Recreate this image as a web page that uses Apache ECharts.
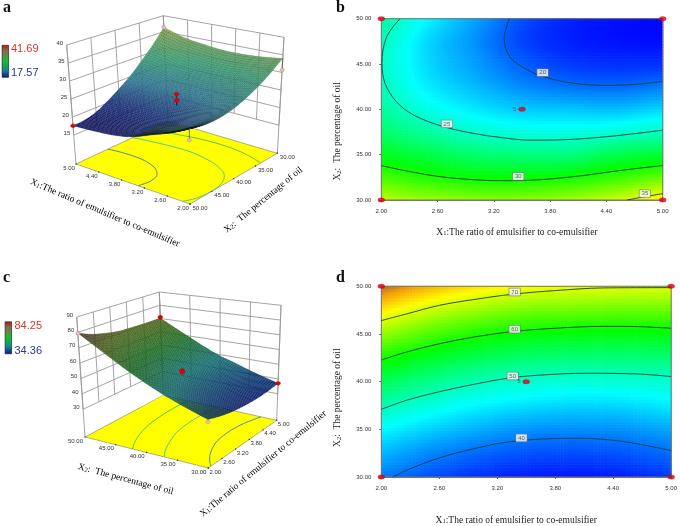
<!DOCTYPE html>
<html><head><meta charset="utf-8"><style>html,body{margin:0;padding:0;background:#fff}#c{width:680px;height:526px}</style>
<script src="https://cdn.jsdelivr.net/npm/echarts@6/dist/echarts.min.js"></script></head><body><div id="c"></div>
<script>
// ---------- values ----------
const x1Grid = [2, 2.5, 3, 3.5, 4, 4.5, 5];
const x2Grid = [30, 32.5, 35, 37.5, 40, 42.5, 45, 47.5, 50];
const x1Ticks = [2, 2.6, 3.2, 3.8, 4.4, 5];
const x2Ticks = [30, 35, 40, 45, 50];
// response of panels a/b: one row per x2Grid value, one column per x1Grid value
const responseAB = [
  [34.0, 33.3, 32.9, 32.9, 33.5, 34.4, 36.3],
  [31.25,30.3, 29.7, 29.6, 30.0, 30.9, 32.0],
  [29.0, 28.0, 27.1, 26.8, 26.7, 27.8, 28.4],
  [27.25,25.9, 24.85,24.35,24.25,24.6, 25.2],
  [26.0, 24.2, 23.1, 22.4, 22.25,22.1, 22.7],
  [25.25,23.2, 22.0, 20.9, 20.3, 20.1, 20.5],
  [25.0, 22.7, 21.3, 19.85,18.95,18.7, 18.75],
  [25.25,22.7, 21.0, 19.2, 18.35,18.0, 17.85],
  [26.0, 23.4, 21.4, 19.4, 18.35,17.9, 17.6]
];
// response of panels c/d
const responseCD = [
  [40.4, 38.2, 36.6, 35.7, 35.4, 35.8, 37.1],
  [43.4, 41.1, 39.5, 38.5, 38.2, 38.6, 39.7],
  [46.75,44.6, 42.9, 41.6, 41.3, 41.6, 42.6],
  [50.7, 48.4, 46.5, 45.4, 44.8, 45.0, 46.0],
  [55.3, 52.6, 50.4, 49.2, 48.8, 48.9, 49.1],
  [60.5, 57.5, 55.4, 54.0, 53.5, 53.5, 53.6],
  [66.5, 63.1, 60.6, 59.2, 58.7, 58.5, 58.8],
  [72.9, 69.3, 66.8, 65.1, 64.7, 64.3, 64.4],
  [79.5, 75.8, 73.3, 71.5, 70.9, 70.4, 70.3]
];
const contoursAB = {
  20: [[3.365,50],[3.31,47.8],[3.37,45.8],[3.55,44.4],[3.73,43.6],[4.05,42.87],[4.42,42.65],[4.76,42.8],[5,43.1]],
  25: [[2.2,50],[2.057,48],[2.007,45.07],[2.04,42.87],[2.16,40.85],[2.34,39.4],[2.64,38.16],[2.98,37.35],[3.27,36.9],[3.585,36.6],[4.05,36.7],[4.51,37.1],[5,37.7]],
  30: [[2,33.8],[2.27,33.2],[2.63,32.57],[2.98,32.24],[3.27,32.13],[3.62,32.2],[4.05,32.57],[4.58,33.3],[5,33.8]],
  35: [[4.62,30],[4.81,30.37],[5,30.7]]
};
const contoursCD = {
  40: [[2.12,30],[2.26,30.7],[2.6,32],[2.95,32.95],[3.29,33.64],[3.7,34],[4.04,34.06],[4.49,33.74],[5,32.77]],
  50: [[2,37.1],[2.26,38.04],[2.6,38.94],[2.95,39.7],[3.29,40.33],[3.63,40.68],[4.14,40.88],[4.66,40.8],[5,40.54]],
  60: [[2,42.27],[2.26,43.1],[2.6,43.97],[2.95,44.66],[3.36,45.25],[3.8,45.6],[4.3,45.8],[4.66,45.77],[5,45.6]],
  70: [[2,46.4],[2.26,47.1],[2.6,48],[2.95,48.6],[3.36,49.17],[3.8,49.55],[4.3,49.83],[5,49.86]]
};
const labelsAB = [[3.72,44.05,20],[2.7,38.4,25],[3.46,32.6,30],[4.81,30.7,35]];
const labelsCD = [[3.38,49.4,70],[3.38,45.5,60],[3.36,40.6,50],[3.45,34.1,40]];
const designCorners = [[2,50],[5,50],[2,30],[5,30],[3.5,40]];
// design points of the 3D panels: x1, x2, response, 1 = above surface (red), 0 = below (pink)
const pointsA = [[5,50,17.6,1],[5,30,36.4,0],[2,30,30.7,0],[2,50,23,0],[3.5,40,25.6,1],[3.5,40,23.8,1]];
const pointsC = [[2,50,79.5,0],[5,50,71,1],[5,30,37.1,1],[2,30,39,0],[3.5,40,51.5,1],[3.5,40,50.3,1]];
const zTicksA = [15,20,25,30,35,40];
const zTicksC = [30,40,50,60,70,80,90];
const rangeAB = [17.57, 41.69];
const rangeCD = [34.36, 84.25];

// ---------- projection of the two 3D boxes ----------
const viewA = { z0:7, z1:40, zLow:15, xEdgeV:1, x1WallV:0, postU:1, postV:1,
  floor:{c00:[277.3,153.3],c10:[168,121],c01:[190,204],c11:[76,164]},
  top:{c00:[284,37.3],c10:[163.3,15.7],c01:[188.7,72.3],c11:[66.7,45]},
  x1Off:[-7,4], x2Off:[10,4], zTicks:zTicksA, M:responseAB, range:rangeAB, contours:contoursAB, points:pointsA,
  order:[-1,1] };
const viewC = { z0:12, z1:90, zLow:30, xEdgeV:0, x1WallV:1, postU:0, postV:1,
  floor:{c00:[208.3,468],c10:[276.7,420.3],c01:[85,437],c11:[163.3,395.3]},
  top:{c00:[207.3,334.7],c10:[281,305.3],c01:[76.7,317],c11:[159.3,292]},
  x1Off:[7,4], x2Off:[-9.5,4], zTicks:zTicksC, M:responseCD, range:rangeCD, contours:contoursCD, points:pointsC,
  order:[-1,-1] };
function lerp(a,b,t){return a+(b-a)*t}
function bil(q,u,v,k){return lerp(lerp(q.c00[k],q.c10[k],u),lerp(q.c01[k],q.c11[k],u),v)}
function project(view,x1,x2,z){
  const u=(x1-2)/3,v=(x2-30)/20,w=(z-view.z0)/(view.z1-view.z0);
  return [lerp(bil(view.floor,u,v,0),bil(view.top,u,v,0),w),lerp(bil(view.floor,u,v,1),bil(view.top,u,v,1),w)];
}
// smooth shading of a read grid
function cr(p0,p1,p2,p3,t){return 0.5*((2*p1)+(-p0+p2)*t+(2*p0-5*p1+4*p2-p3)*t*t+(-p0+3*p1-3*p2+p3)*t*t*t)}
function at(M,r,c){
  const R=M.length-1,C=M[0].length-1;
  if(r<0)return 2*at(M,0,c)-at(M,1,c); if(r>R)return 2*at(M,R,c)-at(M,R-1,c);
  if(c<0)return 2*at(M,r,0)-at(M,r,1); if(c>C)return 2*at(M,r,C)-at(M,r,C-1);
  return M[r][c];
}
function field(M,x1,x2){
  const fc=Math.min(5,Math.max(0,Math.floor((x1-2)/0.5))),tc=(x1-2)/0.5-fc;
  const fr=Math.min(7,Math.max(0,Math.floor((x2-30)/2.5))),tr=(x2-30)/2.5-fr;
  const row=[];
  for(let r=-1;r<=2;r++)row.push(cr(at(M,fr+r,fc-1),at(M,fr+r,fc),at(M,fr+r,fc+1),at(M,fr+r,fc+2),tc));
  return cr(row[0],row[1],row[2],row[3],tr);
}
function ramp(stops,t){
  t=Math.max(0,Math.min(1,t));
  for(let i=1;i<stops.length;i++){ if(t<=stops[i][0]){
    const a=stops[i-1],b=stops[i],f=(t-a[0])/(b[0]-a[0]);
    return 'rgb('+[1,2,3].map(k=>Math.round(lerp(a[k],b[k],f))).join(',')+')';
  }}
  const s=stops[stops.length-1];return 'rgb('+s[1]+','+s[2]+','+s[3]+')';
}
const flatStops=[[0,0,0,255],[.25,0,255,255],[.5,0,255,0],[.75,255,255,0],[.85,245,160,10],[.92,150,90,60],[1,130,70,70]];
const surfStopsA=[[0,22,26,125],[.12,32,62,145],[.28,55,140,170],[.5,70,180,135],[.72,135,180,95],[.85,185,190,115],[1,130,90,80]];
const surfStopsC=[[0,10,30,135],[.12,15,75,145],[.28,25,140,145],[.5,35,140,45],[.72,100,130,35],[.9,110,70,65],[1,90,60,70]];
function levelColor(t){
  const m=ramp(flatStops,t).match(/\d+/g).map(Number),g=[120,130,140];
  return 'rgb('+m.map((v,i)=>Math.round(v*0.5+g[i]*0.5)).join(',')+')';
}

// ---------- builders ----------
function heatSeries(M,range,ax){
  const nx=94,ny=62,data=[];
  for(let i=0;i<nx;i++)for(let j=0;j<ny;j++)data.push([i,j]);
  return {type:'custom',xAxisIndex:ax,yAxisIndex:ax,z:3,silent:true,data,encode:{x:0,y:1},progressive:0,
    renderItem(p,api){
      const i=api.value(0),j=api.value(1);
      const a=api.coord([2+3*i/nx,30+20*j/ny]),b=api.coord([2+3*(i+1)/nx,30+20*(j+1)/ny]);
      const v=field(M,2+3*(i+.5)/nx,30+20*(j+.5)/ny);
      return {type:'rect',shape:{x:a[0],y:b[1]-.5,width:b[0]-a[0]+.6,height:a[1]-b[1]+.6},
        style:{fill:ramp(flatStops,(v-range[0])/(range[1]-range[0]))}};
    }};
}
function borderSeries(ax){
  return {type:'custom',xAxisIndex:ax,yAxisIndex:ax,z:5,silent:true,data:[[2,30]],encode:{x:0,y:1},
    renderItem(p,api){
      const a=api.coord([2,30]),b=api.coord([5,50]);
      return {type:'rect',shape:{x:a[0],y:b[1],width:b[0]-a[0],height:a[1]-b[1]},style:{fill:'none',stroke:'#777',lineWidth:1}};
    }};
}
function contourSeries(cs,ax){
  return Object.keys(cs).map(k=>({type:'line',xAxisIndex:ax,yAxisIndex:ax,z:6,smooth:0.35,showSymbol:false,silent:true,
    data:cs[k],lineStyle:{color:'#123c3c',width:0.9}}));
}
function labelSeries(ls,ax){
  return {type:'scatter',xAxisIndex:ax,yAxisIndex:ax,z:7,symbolSize:0,silent:true,data:ls,
    label:{show:true,position:'inside',formatter:o=>String(o.value[2]),fontFamily:'Liberation Sans',fontSize:6,color:'#333',
      backgroundColor:'#fff',borderColor:'#777',borderWidth:.7,padding:[1,2,0,2]}};
}
function cornerSeries(ax){
  return {type:'scatter',xAxisIndex:ax,yAxisIndex:ax,z:8,silent:true,symbol:'circle',symbolSize:[7,4.5],data:designCorners,
    clip:false,itemStyle:{color:'#e00010',borderColor:'#a00',borderWidth:.3},
    label:{show:true,position:'left',distance:2,fontFamily:'Liberation Sans',fontSize:6,color:'#333',
      formatter:o=>(o.value[0]===3.5?'5':'')}};
}
const serifRich={a:{fontFamily:'Liberation Serif',fontSize:9.5,color:'#222'},s:{fontFamily:'Liberation Serif',fontSize:6.5,color:'#222',verticalAlign:'bottom',padding:[3,0,0,0]}};
const x1Name='{a|X}{s|1}{a|:The ratio of emulsifier to co-emulsifier}';
const x2Name='{a|X}{s|2}{a|:  The percentage of oil}';
function frameSeries(view,ax){
  return {type:'custom',xAxisIndex:ax,yAxisIndex:ax,z:3,silent:true,data:[[1,1]],encode:{x:0,y:1},
    renderItem(p,api){
      const kids=[];
      const C=q=>api.coord(q);
      const line=(a,b,col,w)=>kids.push({type:'line',shape:{x1:a[0],y1:a[1],x2:b[0],y2:b[1]},style:{stroke:col,lineWidth:w}});
      const P=(x1,x2,z)=>C(project(view,x1,x2,z));
      const gc='#9a9a9a';
      // walls
      const wallX2=5; const wallV=view.x1WallV?50:30;
      view.zTicks.forEach(z=>{
        line(P(5,30,z),P(5,50,z),gc,.9);
        line(P(2,wallV,z),P(5,wallV,z),gc,.9);
      });
      const zt=view.z1;
      x1Ticks.forEach(t=>{ line(P(t,wallV,view.zLow),P(t,wallV,zt),gc,.9); });
      x2Ticks.forEach(t=>{ line(P(wallX2,t,view.zLow),P(wallX2,t,zt),gc,.9); });
      // posts to the floor
      [[5,30],[5,50],[2,wallV]].forEach(q=>line(P(q[0],q[1],view.z0),P(q[0],q[1],zt),gc,.9));
      // floor
      const fl=[P(2,30,view.z0),P(5,30,view.z0),P(5,50,view.z0),P(2,50,view.z0)];
      kids.push({type:'polygon',shape:{points:fl},style:{fill:'#ffff00',stroke:'#777',lineWidth:.6}});
      // floor contours
      Object.keys(view.contours).forEach(k=>{
        const t=(k-view.range[0])/(view.range[1]-view.range[0]);
        kids.push({type:'polyline',shape:{points:view.contours[k].map(q=>P(q[0],q[1],view.z0)),smooth:.3},
          style:{stroke:t>.7?'#ffff00':levelColor(t),lineWidth:.9,fill:'none'}});
      });
      // tick labels on floor edges
      const lab=(q,off,txt,al)=>kids.push({type:'text',x:q[0]+off[0],y:q[1]+off[1],
        style:{text:txt,fontFamily:'Liberation Sans',fontSize:6,fill:'#333',align:al||'center',verticalAlign:'middle'}});
      const xv=view.xEdgeV?50:30;
      x1Ticks.forEach(t=>{const q=P(t,xv,view.z0);kids.push({type:'circle',shape:{cx:q[0],cy:q[1],r:.7},style:{fill:'#333'}});lab(q,view.x1Off,t.toFixed(2));});
      x2Ticks.forEach(t=>{const q=P(2,t,view.z0);kids.push({type:'circle',shape:{cx:q[0],cy:q[1],r:.7},style:{fill:'#333'}});lab(q,view.x2Off,t.toFixed(2));});
      view.zTicks.forEach(z=>{const q=P(view.postU?5:2,50,z);lab(q,[-3.5,-2],String(z),'right');});
      return {type:'group',children:kids};
    }};
}
function surfaceSeries(view,ax,stops){
  const n=60,data=[];
  for(let a=0;a<n;a++)for(let b=0;b<n;b++){
    const i=view.order[0]<0?n-1-a:a, j=view.order[1]<0?n-1-b:b;
    data.push([i,j]);
  }
  const vz=[];
  for(let i=0;i<=n;i++){vz.push([]);for(let j=0;j<=n;j++)vz[i].push(field(view.M,2+3*i/n,30+20*j/n));}
  return {type:'custom',xAxisIndex:ax,yAxisIndex:ax,z:3,silent:true,data,encode:{x:0,y:1},progressive:0,
    renderItem(p,api){
      const i=api.value(0),j=api.value(1);
      const q=(a,b)=>api.coord(project(view,2+3*a/n,30+20*b/n,vz[a][b]));
      const t=((vz[i][j]+vz[i+1][j+1])/2-view.range[0])/(view.range[1]-view.range[0]);
      return {type:'polygon',shape:{points:[q(i,j),q(i+1,j),q(i+1,j+1),q(i,j+1)]},
        style:{fill:ramp(stops,t),stroke:'rgba(0,0,0,.3)',lineWidth:.45}};
    }};
}
function pointSeries(view,ax){
  return {type:'custom',xAxisIndex:ax,yAxisIndex:ax,z:4,silent:true,data:view.points,encode:{x:0,y:1},
    renderItem(p,api){
      const x1=api.value(0),x2=api.value(1),z=api.value(2),up=api.value(3);
      const a=api.coord(project(view,x1,x2,z)),b=api.coord(project(view,x1,x2,field(view.M,x1,x2)));
      return {type:'group',children:[
        {type:'line',shape:{x1:a[0],y1:a[1],x2:b[0],y2:b[1]},style:{stroke:up?'#222':'#555',lineWidth:.8}},
        {type:'ellipse',shape:{cx:a[0],cy:a[1],rx:up?2.4:2.1,ry:up?1.9:1.9},style:{fill:up?'#e00010':'#f0b8b8',stroke:up?'#a00':'#888',lineWidth:.4}}
      ]};
    }};
}
const tickLabel={fontFamily:'Liberation Sans',fontSize:6,color:'#333'};
function valueAxes(gi,nameGapX,nameGapY,padX,padY){
  return {
    x:{type:'value',gridIndex:gi,min:2,max:5,name:x1Name,nameLocation:'middle',nameGap:nameGapX,
       nameTextStyle:{rich:serifRich,padding:padX},axisLine:{onZero:false,lineStyle:{color:'#777'}},
       axisTick:{show:true,length:2,customValues:x1Ticks,lineStyle:{color:'#555'}},
       axisLabel:Object.assign({margin:8,customValues:x1Ticks,formatter:v=>(+v).toFixed(2)},tickLabel),splitLine:{show:false}},
    y:{type:'value',gridIndex:gi,min:30,max:50,name:x2Name,nameLocation:'middle',nameGap:nameGapY,
       nameTextStyle:{rich:serifRich,padding:padY},axisLine:{onZero:false,lineStyle:{color:'#777'}},
       axisTick:{show:true,length:2,customValues:x2Ticks,lineStyle:{color:'#555'}},
       axisLabel:Object.assign({margin:10,customValues:x2Ticks,formatter:v=>(+v).toFixed(2)},tickLabel),splitLine:{show:false}}
  };
}
function pageAxes(gi,y0,y1){
  return {
    x:{type:'value',gridIndex:gi,min:0,max:340,show:false},
    y:{type:'value',gridIndex:gi,min:y0,max:y1,inverse:true,show:false}
  };
}
const axB=valueAxes(0,27,39,[0,10,0,0],[0,44,0,0]), axD=valueAxes(1,38,39,[0,20,0,0],[0,32,0,0]);
const axA=pageAxes(2,0,263), axC=pageAxes(3,263,526);

function legend(y0,x0,hi,lo,tx,y1,y2){
  return [
    {type:'rect',left:x0,top:y0,shape:{width:6.5,height:32},style:{stroke:'#111',lineWidth:.6,
      fill:{type:'linear',x:0,y:0,x2:0,y2:1,colorStops:[{offset:0,color:'#b01818'},{offset:.18,color:'#8a6a50'},{offset:.5,color:'#10c030'},{offset:.78,color:'#108890'},{offset:1,color:'#1010a0'}]}}},
    {type:'text',left:tx,top:y1,style:{text:hi,fill:'#d8352a',fontFamily:'Liberation Sans',fontSize:11}},
    {type:'text',left:tx,top:y2,style:{text:lo,fill:'#2c3a88',fontFamily:'Liberation Sans',fontSize:11}}
  ];
}
function axisTitle(txt,x,y,rotDeg){
  return {type:'text',x,y,rotation:rotDeg*Math.PI/180,silent:true,
    style:{text:txt,rich:serifRich,align:'center',verticalAlign:'middle'}};
}
function titleItem(t,l,top){
  return {text:t,left:l,top:top,padding:0,textStyle:{fontFamily:'Liberation Serif',fontWeight:'bold',fontSize:16,color:'#111'}};
}
const option={
  animation:false,backgroundColor:'#fff',
  title:[titleItem('a',3,0),titleItem('b',336,0),titleItem('c',3,270),titleItem('d',336,270)],
  grid:[
    {left:381.3,top:18.7,width:281.4,height:181.3},
    {left:381.3,top:286.3,width:292,height:192.4},
    {left:0,top:0,width:340,height:263},
    {left:0,top:263,width:340,height:263}
  ],
  xAxis:[axB.x,axD.x,axA.x,axC.x],
  yAxis:[axB.y,axD.y,axA.y,axC.y],
  graphic:[].concat(
    legend(45,1.8,'41.69','17.57',11,43,67.5),
    legend(321.5,4.8,'84.25','34.36',14.5,320,345),
    [axisTitle(x1Name,105,213,-23),axisTitle(x2Name,263.3,200,39.3),
     axisTitle(x2Name,125.7,479.3,-15),axisTitle(x1Name,263.3,463.7,39.6)]
  ),
  series:[].concat(
    heatSeries(responseAB,rangeAB,0),heatSeries(responseCD,rangeCD,1),
    borderSeries(0),borderSeries(1),
    contourSeries(contoursAB,0),contourSeries(contoursCD,1),
    labelSeries(labelsAB,0),labelSeries(labelsCD,1),
    cornerSeries(0),cornerSeries(1),
    frameSeries(viewA,2),surfaceSeries(viewA,2,surfStopsA),pointSeries(viewA,2),
    frameSeries(viewC,3),surfaceSeries(viewC,3,surfStopsC),pointSeries(viewC,3)
  )
};
const chart=echarts.init(document.getElementById('c'),null,{renderer:'canvas',width:680,height:526});
chart.setOption(option);
</script></body></html>
